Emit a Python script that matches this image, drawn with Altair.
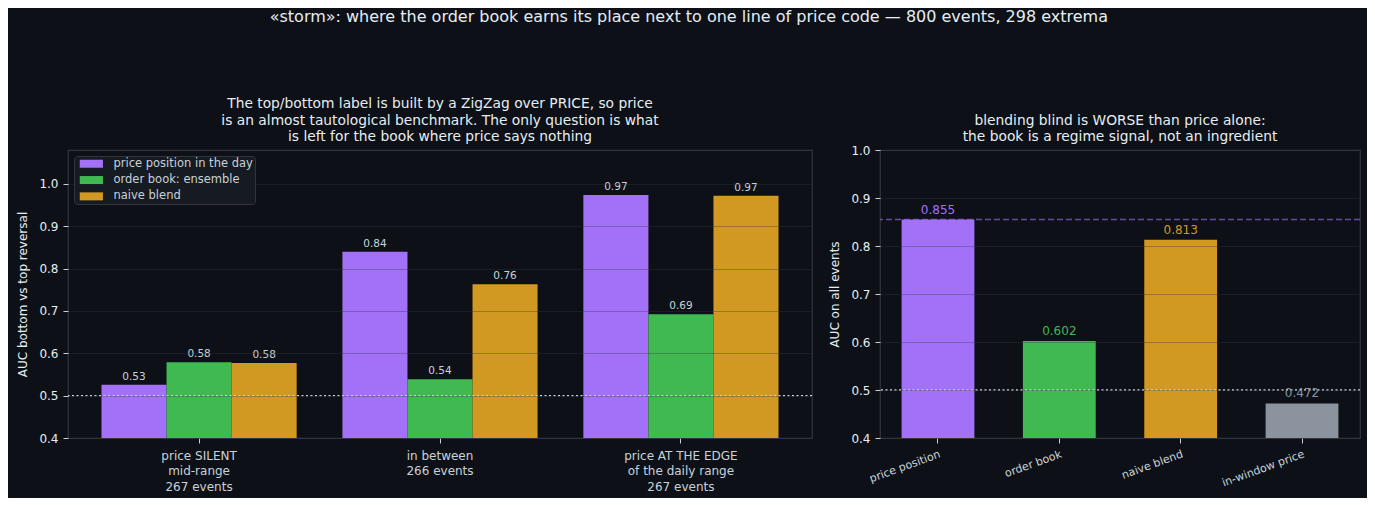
import altair as alt
import pandas as pd

# ---------------- data ----------------
groups = [
    "price SILENT\nmid-range\n267 events",
    "in between\n266 events",
    "price AT THE EDGE\nof the daily range\n267 events",
]
series = ["price position in the day", "order book: ensemble", "naive blend"]
auc_price = [0.526, 0.840, 0.974]
auc_book = [0.579, 0.539, 0.692]
auc_blend = [0.577, 0.763, 0.972]
series_colors = ["#a371f7", "#3fb950", "#d29922"]

models = ["price position", "order book", "naive blend", "in-window price"]
auc_all = [0.855, 0.602, 0.813, 0.472]
model_colors = ["#a371f7", "#3fb950", "#d29922", "#8b949e"]

y_ticks = [0.4, 0.5, 0.6, 0.7, 0.8, 0.9, 1.0]
chance = 0.5

main_title = "«storm»: where the order book earns its place next to one line of price code — 800 events, 298 extrema"
left_title = [
    "The top/bottom label is built by a ZigZag over PRICE, so price",
    "is an almost tautological benchmark. The only question is what",
    "is left for the book where price says nothing",
]
right_title = [
    "\u00a0",
    "blending blind is WORSE than price alone:",
    "the book is a regime signal, not an ingredient",
]

# ---------------- tables ----------------
rows = []
for gi, g in enumerate(groups):
    for s, vals in zip(series, [auc_price, auc_book, auc_blend]):
        rows.append({"group": g, "series": s, "auc": vals[gi]})
df_left = pd.DataFrame(rows)
df_right = pd.DataFrame({"model": models, "auc": auc_all})
df_ref = pd.DataFrame({"ref": [chance]})

FG = "#e6edf3"
MUTED = "#c9d1d9"
FONT = "DejaVu Sans"

grid_axis = dict(grid=True, gridColor="#30363d", gridOpacity=0.35, zindex=1,
                 values=y_ticks, format=".1f", tickSize=5, labelPadding=5,
                 titlePadding=9, labelFontSize=12, titleFontSize=12)

# ---------------- left panel ----------------
xg = alt.X("group:N", sort=groups, title=None,
           scale=alt.Scale(paddingInner=0.19, paddingOuter=0.139),
           axis=alt.Axis(labelAngle=0, labelExpr="split(datum.label, '\\n')",
                         labelLineHeight=15.5, labelFontSize=12, labelColor=MUTED,
                         tickSize=5, labelPadding=7, grid=False))
xo = alt.XOffset("series:N", sort=series, scale=alt.Scale(paddingInner=0, paddingOuter=0))
yl = alt.Y("auc:Q", title="AUC bottom vs top reversal",
           scale=alt.Scale(domain=[0.4, 1.08], nice=False, zero=False),
           axis=alt.Axis(**grid_axis))

bars_l = alt.Chart(df_left).mark_bar().encode(
    x=xg, xOffset=xo, y=yl, y2=alt.datum(0.4),
    color=alt.Color("series:N", sort=series,
                    scale=alt.Scale(domain=series, range=series_colors),
                    legend=alt.Legend(title=None, orient="top-left", offset=6,
                                      fillColor="#161b22", strokeColor="#30363d",
                                      padding=2, cornerRadius=3, zindex=2,
                                      labelColor=MUTED, labelFontSize=11.5, labelFont=FONT,
                                      symbolType="M-0.5,-1H5.3V1H-0.5Z", symbolSize=64,
                                      symbolStrokeWidth=0, symbolOpacity=1,
                                      labelOffset=26, rowPadding=3.3)),
)
text_l = alt.Chart(df_left).mark_text(baseline="bottom", dy=-3, fontSize=10.5,
                                      color=MUTED, font=FONT).encode(
    x=xg, xOffset=xo, y=yl, text=alt.Text("auc:Q", format=".2f"))
rule_l = alt.Chart(df_ref).mark_rule(color=MUTED, strokeDash=[2, 2.5], strokeWidth=1.3).encode(
    y=alt.Y("ref:Q", title="AUC bottom vs top reversal"))

left = alt.layer(bars_l, rule_l, text_l).properties(
    width=744, height=288,
    title=alt.TitleParams(text=left_title, fontSize=13.8, lineHeight=16.5, offset=6,
                          anchor="middle", frame="group", color=FG, font=FONT,
                          fontWeight="normal"))

# ---------------- right panel ----------------
xr = alt.X("model:N", sort=models, title=None,
           scale=alt.Scale(paddingInner=0.4, paddingOuter=0.178),
           axis=alt.Axis(labelAngle=340, labelAlign="right", labelBaseline="top",
                         labelFontSize=11, labelColor=MUTED, tickSize=5,
                         labelPadding=5, grid=False))
yr = alt.Y("auc:Q", title="AUC on all events",
           scale=alt.Scale(domain=[0.4, 1.0], nice=False, zero=False),
           axis=alt.Axis(**grid_axis))
col_r = alt.Color("model:N", sort=models,
                  scale=alt.Scale(domain=models, range=model_colors), legend=None)

bars_r = alt.Chart(df_right).mark_bar().encode(x=xr, y=yr, y2=alt.datum(0.4), color=col_r)
text_r = alt.Chart(df_right).mark_text(baseline="bottom", dy=-3, fontSize=12, font=FONT).encode(
    x=xr, y=yr, text=alt.Text("auc:Q", format=".3f"), color=col_r)
best_r = alt.Chart(df_right.iloc[[0]]).mark_rule(color="#a371f7", opacity=0.6,
                                                 strokeDash=[6, 3], strokeWidth=1.5).encode(
    y=alt.Y("auc:Q", title="AUC on all events"))
rule_r = alt.Chart(df_ref).mark_rule(color=MUTED, strokeDash=[2, 2.5], strokeWidth=1.3).encode(
    y=alt.Y("ref:Q", title="AUC on all events"))

right = alt.layer(bars_r, text_r, best_r, rule_r).properties(
    width=480, height=288,
    title=alt.TitleParams(text=right_title, fontSize=13.8, lineHeight=16.5, offset=0,
                          anchor="middle", frame="group", color=FG, font=FONT,
                          fontWeight="normal"))

chart = alt.hconcat(left, right, spacing=14).resolve_scale(color="independent").properties(
    title=alt.TitleParams(text=main_title, fontSize=16, anchor="middle", frame="bounds",
                          offset=72, color=FG, font=FONT, fontWeight="normal"),
    background="#0d1117",
    padding={"left": 8, "top": 0, "right": 5, "bottom": 5},
).configure_view(
    stroke="#30363d", strokeWidth=1.2
).configure_axis(
    labelFont=FONT, titleFont=FONT, labelColor=FG, titleColor=FG,
    tickColor=MUTED, domain=False, titleFontWeight="normal"
).configure_title(font=FONT, color=FG, fontWeight="normal")

chart.save("out.html", embed_options={"renderer": "svg", "actions": False})
